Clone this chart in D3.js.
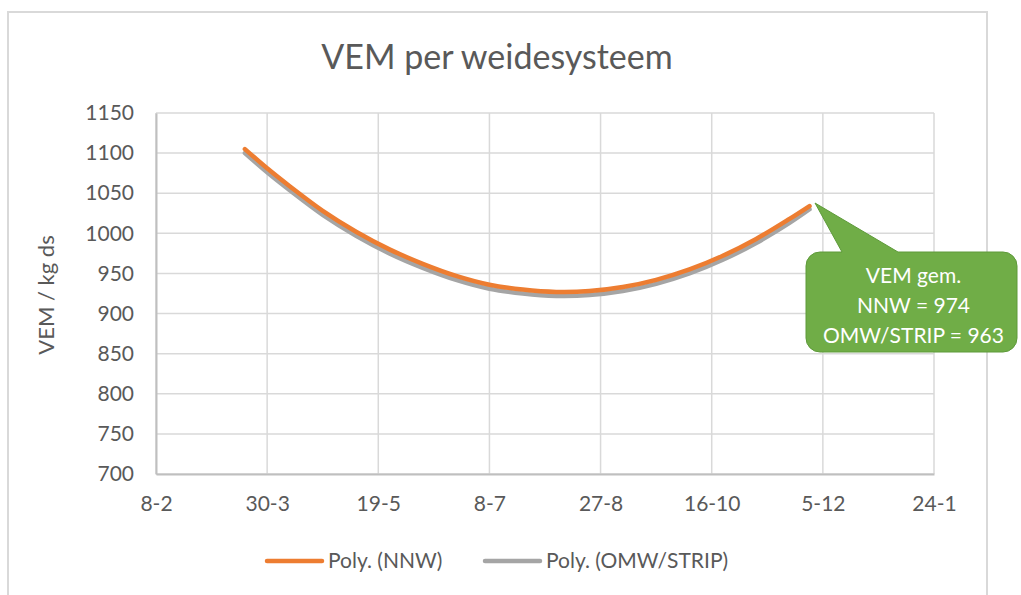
<!DOCTYPE html>
<html>
<head>
<meta charset="utf-8">
<script src="https://cdn.jsdelivr.net/npm/d3@7"></script>
<style>
  html, body { margin: 0; padding: 0; background: #fff; }
  svg { display: block; font-family: Lato, "Open Sans", sans-serif; }
</style>
</head>
<body>
<svg id="chart" width="1021" height="595"></svg>
<script>
// Trendline samples (date, VEM / kg ds)
const dates = ["2019-03-20","2019-03-30","2019-04-09","2019-04-24","2019-05-09","2019-05-24",
               "2019-06-08","2019-06-23","2019-07-08","2019-07-23","2019-08-07","2019-08-22",
               "2019-09-06","2019-09-21","2019-10-06","2019-10-21","2019-11-05","2019-11-20","2019-11-29"];
const nnw = [1105,1081,1059,1028,1002,980,962,947,936,930,927,928,933,942,955,972,993,1018,1034];
const omwStrip = [1100,1076,1054,1023,997,975,957,942,931,925,922,923,928,937,950,967,988,1013,1030];
const seriesNames = ["Poly. (NNW)", "Poly. (OMW/STRIP)"];
const xTickDates = ["2019-02-08","2019-03-30","2019-05-19","2019-07-08","2019-08-27","2019-10-16","2019-12-05","2020-01-24"];
const yTicks = [700,750,800,850,900,950,1000,1050,1100,1150];
const calloutLines = ["VEM gem.", "NNW = 974", "OMW/STRIP = 963"];

const parse = d3.utcParse("%Y-%m-%d");
const svg = d3.select("#chart");

// chart frame
svg.append("rect").attr("x", 8).attr("y", 12).attr("width", 979).attr("height", 600)
  .attr("fill", "#fff").attr("stroke", "#d9d9d9").attr("stroke-width", 2);

const x = d3.scaleUtc()
  .domain([parse(xTickDates[0]), parse(xTickDates[xTickDates.length - 1])])
  .range([156, 934]);
const y = d3.scaleLinear().domain([700, 1150]).range([474, 113]);

// gridlines
const grid = svg.append("g");
grid.selectAll(".h").data(yTicks).join("line")
  .attr("x1", 156).attr("x2", 934)
  .attr("y1", d => y(d)).attr("y2", d => y(d))
  .attr("stroke", "#d9d9d9").attr("stroke-width", 1.5);
grid.selectAll(".v").data(xTickDates.map(parse)).join("line")
  .attr("x1", d => x(d)).attr("x2", d => x(d))
  .attr("y1", 113).attr("y2", 474)
  .attr("stroke", "#d9d9d9").attr("stroke-width", 1.5);

// axes
const fmt = d3.utcFormat("%-d-%-m");
const xAxis = svg.append("g").attr("transform", "translate(0,474)")
  .call(d3.axisBottom(x).tickValues(xTickDates.map(parse)).tickFormat(fmt).tickSize(0).tickPadding(22));
xAxis.select(".domain").attr("stroke", "#bfbfbf").attr("stroke-width", 2);
xAxis.selectAll("text").attr("fill", "#595959").attr("font-size", 21).attr("font-family", "Lato");

const yAxis = svg.append("g").attr("transform", "translate(156,0)")
  .call(d3.axisLeft(y).tickValues(yTicks).tickFormat(d3.format("d")).tickSize(0).tickPadding(22));
yAxis.select(".domain").attr("stroke", "#bfbfbf").attr("stroke-width", 2);
yAxis.selectAll("text").attr("fill", "#595959").attr("font-size", 21).attr("font-family", "Lato");

// title and axis label
svg.append("text").attr("x", 497).attr("y", 69).attr("text-anchor", "middle")
  .attr("font-size", 34).attr("fill", "#595959").text("VEM per weidesysteem");
svg.append("text").attr("transform", "translate(54,295) rotate(-90)").attr("text-anchor", "middle")
  .attr("font-size", 22).attr("fill", "#595959").text("VEM / kg ds");

// trend lines
const line = d3.line().x(d => x(d[0])).y(d => y(d[1])).curve(d3.curveCatmullRom);
const pts = vals => dates.map((d, i) => [parse(d), vals[i]]);
svg.append("path").datum(pts(omwStrip)).attr("d", line)
  .attr("fill", "none").attr("stroke", "#a5a5a5").attr("stroke-width", 4.5).attr("stroke-linecap", "round");
svg.append("path").datum(pts(nnw)).attr("d", line)
  .attr("fill", "none").attr("stroke", "#ed7d31").attr("stroke-width", 4.5).attr("stroke-linecap", "round");

// legend
const legend = [{name: seriesNames[0], color: "#ed7d31", x: 267}, {name: seriesNames[1], color: "#a5a5a5", x: 485}];
const lg = svg.append("g").selectAll("g").data(legend).join("g");
lg.append("line").attr("x1", d => d.x).attr("x2", d => d.x + 55).attr("y1", 561).attr("y2", 561)
  .attr("stroke", d => d.color).attr("stroke-width", 4.5).attr("stroke-linecap", "round");
lg.append("text").attr("x", d => d.x + 61).attr("y", 568).attr("font-size", 21).attr("fill", "#595959")
  .text(d => d.name);

// callout bubble pointing at the end of the lines
const bx = 806, by = 252, bw = 211, bh = 100, r = 14;
const tipX = 815, tipY = 203, b1 = 842, b2 = 898;
const p = d3.path();
p.moveTo(bx + r, by);
p.lineTo(b1, by);
p.lineTo(tipX, tipY);
p.lineTo(b2, by);
p.lineTo(bx + bw - r, by);
p.arcTo(bx + bw, by, bx + bw, by + r, r);
p.lineTo(bx + bw, by + bh - r);
p.arcTo(bx + bw, by + bh, bx + bw - r, by + bh, r);
p.lineTo(bx + r, by + bh);
p.arcTo(bx, by + bh, bx, by + bh - r, r);
p.lineTo(bx, by + r);
p.arcTo(bx, by, bx + r, by, r);
p.closePath();
svg.append("path").attr("d", p.toString()).attr("fill", "#70ad47").attr("stroke", "#5e9a3a").attr("stroke-width", 1);
svg.append("g").selectAll("text").data(calloutLines).join("text")
  .attr("x", bx + bw / 2 + 2).attr("y", (d, i) => 283 + i * 30)
  .attr("text-anchor", "middle").attr("font-size", 21).attr("fill", "#fff").text(d => d);
</script>
</body>
</html>
